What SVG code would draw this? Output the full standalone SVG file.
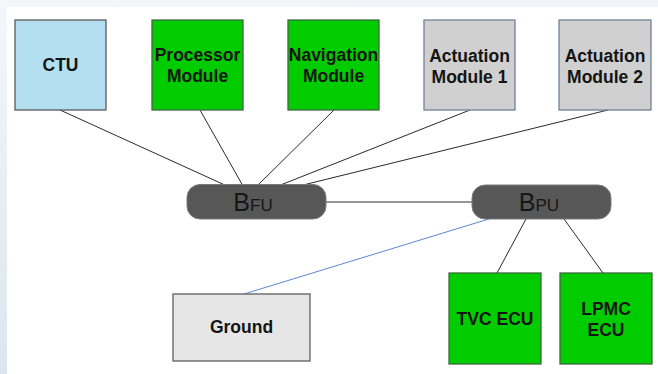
<svg xmlns="http://www.w3.org/2000/svg" width="658" height="374" viewBox="0 0 658 374">
  <defs>
    <linearGradient id="edgeLeft" x1="0" y1="0" x2="0" y2="1">
      <stop offset="0" stop-color="#f4f7fa"/>
      <stop offset="1" stop-color="#dce5ef"/>
    </linearGradient>
    <linearGradient id="edgeTop" x1="0" y1="0" x2="1" y2="0">
      <stop offset="0" stop-color="#f3f6f9"/>
      <stop offset="1" stop-color="#f1f4f8"/>
    </linearGradient>
  </defs>
  <style>
    .box { stroke-width: 1.3; }
    .ctu { fill: #b3dff0; stroke: #5a5a5a; }
    .green { fill: #00cc00; stroke: #3d6b3d; }
    .grey { fill: #d0d0d0; stroke: #6f8299; }
    .ground { fill: #e6e6e6; stroke: #5e5e5e; }
    .bus { fill: #575757; stroke: #7a7a7a; stroke-width: 1; }
    .label { font-family: "Liberation Sans", Arial, sans-serif; font-weight: bold; font-size: 17.5px; fill: #141414; text-anchor: middle; }
    .busB { font-family: "Liberation Sans", Arial, sans-serif; font-size: 25px; fill: #161616; }
    .busSub { font-size: 17px; }
    .wire { stroke: #2a2a2a; stroke-width: 1; fill: none; }
    .blue { stroke: #5b86d6; stroke-width: 1; fill: none; }
  </style>

  <!-- page -->
  <rect width="658" height="374" fill="#ffffff"/>
  <rect x="0" y="0" width="658" height="7" fill="url(#edgeTop)"/>
  <rect x="0" y="0" width="7" height="374" fill="url(#edgeLeft)"/>

  <g id="connectors">
    <line class="wire" x1="60" y1="110" x2="227" y2="186"/>
    <line class="wire" x1="200" y1="110" x2="243" y2="186"/>
    <line class="wire" x1="334" y1="110" x2="257" y2="186"/>
    <line class="wire" x1="470" y1="110" x2="278" y2="186"/>
    <line class="wire" x1="608" y1="110" x2="299" y2="186"/>
    <line class="wire" x1="326" y1="202" x2="472" y2="202"/>
    <line class="wire" x1="526" y1="219" x2="497" y2="273"/>
    <line class="wire" x1="564" y1="219" x2="603" y2="273"/>
    <line class="blue" x1="492" y1="218" x2="244" y2="294"/>
  </g>

  <g id="ctu">
    <rect class="box ctu" x="15" y="20" width="91" height="90"/>
    <text class="label" x="60.5" y="71">CTU</text>
  </g>
  <g id="processor-module">
    <rect class="box green" x="152" y="20" width="91" height="90"/>
    <text class="label" x="197.5" y="61">Processor</text>
    <text class="label" x="197.5" y="82">Module</text>
  </g>
  <g id="navigation-module">
    <rect class="box green" x="288" y="20" width="91" height="90"/>
    <text class="label" x="333.5" y="61">Navigation</text>
    <text class="label" x="333.5" y="82">Module</text>
  </g>
  <g id="actuation-module-1">
    <rect class="box grey" x="424" y="20" width="91" height="90"/>
    <text class="label" x="469.5" y="62">Actuation</text>
    <text class="label" x="469.5" y="83">Module 1</text>
  </g>
  <g id="actuation-module-2">
    <rect class="box grey" x="559" y="20" width="92" height="90"/>
    <text class="label" x="605" y="62">Actuation</text>
    <text class="label" x="605" y="83">Module 2</text>
  </g>

  <g id="bus-fu">
    <rect class="bus" x="187" y="184.5" width="139" height="34.5" rx="13"/>
    <text class="busB" x="253" y="211" text-anchor="middle">B<tspan class="busSub">FU</tspan></text>
  </g>
  <g id="bus-pu">
    <rect class="bus" x="472" y="185" width="139" height="34" rx="13"/>
    <text class="busB" x="539" y="211" text-anchor="middle">B<tspan class="busSub">PU</tspan></text>
  </g>

  <g id="ground">
    <rect class="box ground" x="173" y="294" width="137" height="67"/>
    <text class="label" x="241.5" y="333">Ground</text>
  </g>
  <g id="tvc-ecu">
    <rect class="box green" x="449" y="273" width="92" height="91"/>
    <text class="label" x="495" y="325">TVC ECU</text>
  </g>
  <g id="lpmc-ecu">
    <rect class="box green" x="560" y="273" width="92" height="91"/>
    <text class="label" x="606" y="315">LPMC</text>
    <text class="label" x="606" y="336">ECU</text>
  </g>
</svg>
